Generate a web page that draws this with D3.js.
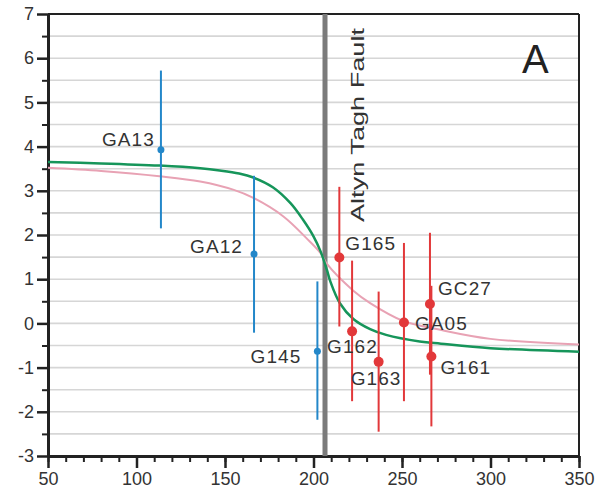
<!DOCTYPE html>
<html>
<head>
<meta charset="utf-8">
<script src="https://cdn.jsdelivr.net/npm/d3@7"></script>
<style>
  body { margin: 0; background: #fff; }
  text { font-family: "Liberation Sans", Arial, sans-serif; }
</style>
</head>
<body>
<div id="chart"></div>
<script>
// sample points (distance, value, error bar ends)
var sampleNames = ["GA13", "GA12", "G145", "G165", "G162", "G163", "GA05", "GC27", "G161"];
var sampleDist  = [113.8, 166.4, 202.2, 214.6, 221.8, 236.8, 251.1, 265.8, 266.6];
var sampleValue = [3.93, 1.57, -0.63, 1.49, -0.18, -0.87, 0.02, 0.44, -0.75];
var sampleLow   = [2.15, -0.21, -2.18, -0.07, -1.76, -2.45, -1.76, -1.16, -2.33];
var sampleHigh  = [5.72, 3.34, 0.95, 3.09, 1.42, 0.72, 1.82, 2.05, 0.85];
var sampleSide  = ["west", "west", "west", "east", "east", "east", "east", "east", "east"];

// model curves
var greenX = [50, 80, 113, 136, 147, 158, 166, 177, 187, 194, 200, 204, 207.5, 209.5, 215, 222.5, 232, 241, 260, 272, 300, 350];
var greenY = [3.65, 3.62, 3.57, 3.51, 3.46, 3.39, 3.3, 3.08, 2.72, 2.35, 1.97, 1.63, 1.22, 0.95, 0.45, 0.1, -0.13, -0.26, -0.41, -0.46, -0.56, -0.64];
var pinkX  = [50, 80, 113, 136, 155, 166, 183, 196, 204, 207.5, 222.5, 232, 251, 271, 300, 350];
var pinkY  = [3.52, 3.45, 3.33, 3.21, 3.02, 2.84, 2.42, 1.93, 1.59, 1.35, 0.74, 0.46, 0.05, -0.14, -0.35, -0.48];

var faultX = 206.5;
var xTicks = [50, 100, 150, 200, 250, 300, 350];
var yTicks = [-3, -2, -1, 0, 1, 2, 3, 4, 5, 6, 7];

// label placement relative to the point, in pixels
var labelPos = {
  GA13: [-6, -4, "end"], GA12: [-11, -1, "end"], G145: [-16, 12, "end"],
  G165: [6, -8, "start"], G162: [-25, 22, "start"], G163: [-28, 23, "start"],
  GA05: [11, 7, "start"], GC27: [8, -9, "start"], G161: [9, 17, "start"]
};

var W = 599, H = 495;
var margin = {top: 14, right: 20, bottom: 39, left: 48};
var width = W - margin.left - margin.right,
    height = H - margin.top - margin.bottom;

var svg = d3.select("#chart").append("svg")
  .attr("width", W).attr("height", H);

var g = svg.append("g")
  .attr("transform", "translate(" + margin.left + "," + margin.top + ")");

var x = d3.scaleLinear().domain([50, 350]).range([0, width]);
var y = d3.scaleLinear().domain([-3, 7]).range([height, 0]);

// horizontal grid every 0.5
g.append("g").selectAll("line")
  .data(d3.range(-2.5, 7, 0.5))
  .enter().append("line")
    .attr("x1", 0).attr("x2", width)
    .attr("y1", d => y(d)).attr("y2", d => y(d))
    .style("stroke", "#d6d6d6")
    .style("stroke-width", 1.6);

// frame top / right
g.append("line").attr("x1", 0).attr("x2", width).attr("y1", 0).attr("y2", 0)
  .style("stroke", "#222").style("stroke-width", 2);
g.append("line").attr("x1", width).attr("x2", width).attr("y1", 0).attr("y2", height)
  .style("stroke", "#222").style("stroke-width", 2);

// minor ticks
g.append("g").attr("transform", "translate(0," + height + ")")
  .call(d3.axisBottom(x).tickValues(d3.range(50, 351, 10)).tickSize(6).tickFormat(""))
  .call(a => a.select(".domain").remove())
  .call(a => a.selectAll("line").style("stroke", "#222").style("stroke-width", 2));
g.append("g")
  .call(d3.axisLeft(y).tickValues(d3.range(-2.5, 7, 1)).tickSize(6).tickFormat(""))
  .call(a => a.select(".domain").remove())
  .call(a => a.selectAll("line").style("stroke", "#222").style("stroke-width", 2));

// major axes
var xAxis = g.append("g").attr("transform", "translate(0," + height + ")")
  .call(d3.axisBottom(x).tickValues(xTicks).tickSize(12).tickSizeOuter(0).tickPadding(4));
var yAxis = g.append("g")
  .call(d3.axisLeft(y).tickValues(yTicks).tickSize(11).tickSizeOuter(0).tickPadding(3)
    .tickFormat(d => d < 0 ? "-" + Math.abs(d) : d));
[xAxis, yAxis].forEach(function(a) {
  a.select(".domain").style("stroke", "#222").style("stroke-width", 3);
  a.selectAll("line").style("stroke", "#222").style("stroke-width", 2.5);
  a.selectAll("text").style("font-size", "18px").style("fill", "#333");
});

// fault
g.append("line")
  .attr("x1", x(faultX)).attr("x2", x(faultX))
  .attr("y1", 0).attr("y2", height)
  .style("stroke", "#7b7b7b").style("stroke-width", 5);

g.append("text")
  .attr("transform", "translate(" + (x(faultX) + 38.5) + "," + 208 + ") rotate(-90)")
  .attr("textLength", 194).attr("lengthAdjust", "spacingAndGlyphs")
  .style("font-size", "19px").style("fill", "#333")
  .text("Altyn Tagh Fault");

// curves
var line = d3.line().x(d => x(d[0])).y(d => y(d[1])).curve(d3.curveCatmullRom.alpha(0.5));
g.append("path").datum(d3.zip(pinkX, pinkY))
  .attr("d", line).style("fill", "none")
  .style("stroke", "#e8a2b4").style("stroke-width", 2);
g.append("path").datum(d3.zip(greenX, greenY))
  .attr("d", line).style("fill", "none")
  .style("stroke", "#16955a").style("stroke-width", 2.5);

// samples
var samples = sampleNames.map(function(n, i) {
  return {name: n, x: sampleDist[i], v: sampleValue[i], lo: sampleLow[i], hi: sampleHigh[i], side: sampleSide[i]};
});
var color = d => d.side === "west" ? "#2387c9" : "#e2383a";

g.selectAll(".err").data(samples).enter().append("line")
  .attr("x1", d => x(d.x)).attr("x2", d => x(d.x))
  .attr("y1", d => y(d.lo)).attr("y2", d => y(d.hi))
  .style("stroke", color).style("stroke-width", 2);

g.selectAll(".dot").data(samples).enter().append("circle")
  .attr("cx", d => x(d.x)).attr("cy", d => y(d.v))
  .attr("r", d => d.side === "west" ? 3.5 : 5)
  .style("fill", color);

g.selectAll(".lab").data(samples).enter().append("text")
  .attr("x", d => x(d.x) + labelPos[d.name][0])
  .attr("y", d => y(d.v) + labelPos[d.name][1])
  .attr("text-anchor", d => labelPos[d.name][2])
  .style("font-size", "19px").style("fill", "#333")
  .style("letter-spacing", "1.1px")
  .text(d => d.name);

g.append("text")
  .attr("x", 474).attr("y", 59)
  .style("font-size", "40px").style("fill", "#222")
  .text("A");
</script>
</body>
</html>
